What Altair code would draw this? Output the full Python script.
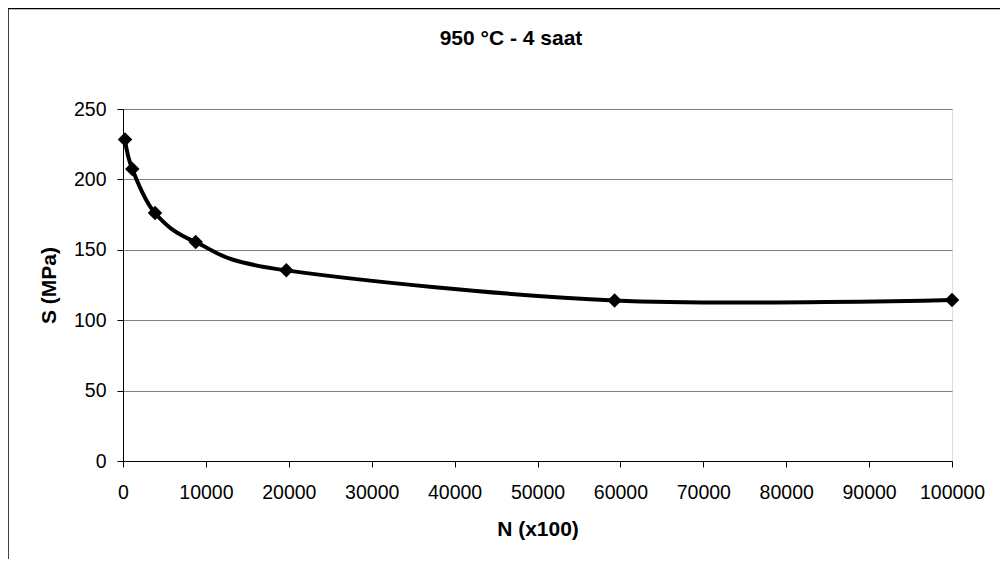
import altair as alt
import pandas as pd

N_values = [240, 1120, 3860, 8770, 19700, 59300, 100000]
S_values = [228.3, 207.4, 176.1, 155.5, 135.4, 114.0, 114.4]
title_text = "950 °C - 4 saat"
x_title = "N (x100)"
y_title = "S (MPa)"
x_ticks = list(range(0, 100001, 10000))
y_ticks = [0, 50, 100, 150, 200, 250]

df = pd.DataFrame({"N": N_values, "S": S_values})

W, H = 829, 352
FONT = "Liberation Sans"

x_enc = alt.X(
    "N:Q",
    scale=alt.Scale(domain=[0, 100000], nice=False),
    axis=alt.Axis(
        values=x_ticks, format="d", grid=False, title=x_title,
        domainColor="black", domainWidth=1, tickColor="black", tickSize=6,
        labelFont=FONT, labelFontSize=19.5, labelColor="black",
        labelBaseline="alphabetic", labelPadding=31, labelFlush=False,
        labelOverlap=False,
        titleFont=FONT, titleFontSize=21, titleFontWeight="bold", titleColor="black",
        titleBaseline="alphabetic", titleY=74, titleX=W / 2,
    ),
)
y_enc = alt.Y(
    "S:Q",
    scale=alt.Scale(domain=[0, 250], nice=False),
    axis=alt.Axis(
        values=y_ticks, grid=True, gridColor="#808080", gridWidth=1,
        title=y_title,
        domainColor="black", domainWidth=1, tickColor="black", tickSize=6,
        labelFont=FONT, labelFontSize=19.5, labelColor="black",
        labelPadding=11, labelFlush=False,
        titleFont=FONT, titleFontSize=21, titleFontWeight="bold", titleColor="black",
        titleAngle=270, titleBaseline="alphabetic", titleX=-68, titleY=H / 2,
    ),
)

line = alt.Chart(df).mark_line(
    interpolate="cardinal", color="black", strokeWidth=4
).encode(x=x_enc, y=y_enc)

points = alt.Chart(df).mark_point(
    shape="diamond", filled=True, color="black", size=210, opacity=1
).encode(x="N:Q", y="S:Q")

title_df = pd.DataFrame({"t": [title_text]})
title = alt.Chart(title_df).mark_text(
    font=FONT, fontSize=21, fontWeight="bold", color="black",
    align="center", baseline="alphabetic"
).encode(x=alt.value(388), y=alt.value(-64), text="t:N")

border = alt.Chart(title_df).mark_rect(
    fill=None, stroke="black", strokeWidth=1.5, clip=False
).encode(x=alt.value(-115), y=alt.value(-100.5), x2=alt.value(1200), y2=alt.value(800))

chart = alt.layer(line, points, title, border).properties(
    width=W, height=H,
    autosize=alt.AutoSizeParams(type="none"),
    padding={"left": 115, "top": 101, "right": 48, "bottom": 98},
).configure_view(stroke="#808080", strokeWidth=1.5).configure(background="white")

chart.save("out.html", embed_options={"renderer": "svg", "actions": False})
